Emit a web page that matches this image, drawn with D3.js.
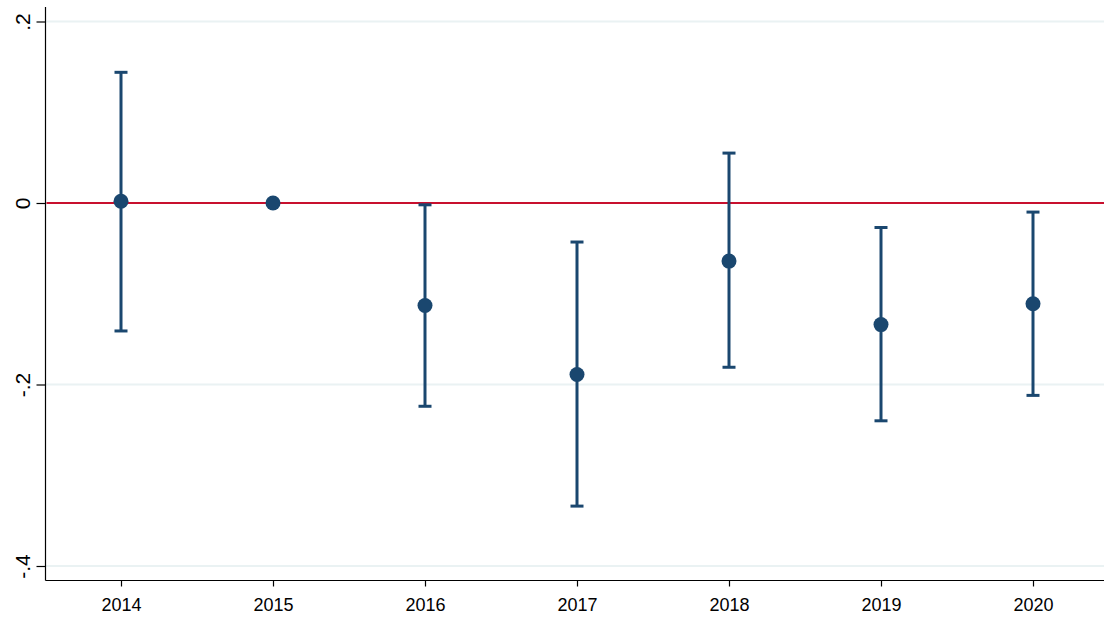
<!DOCTYPE html>
<html>
<head>
<meta charset="utf-8">
<script src="https://cdn.jsdelivr.net/npm/d3@7"></script>
<style>
  body { margin: 0; background: #fff; }
  svg { display: block; font-family: "Liberation Sans", Arial, sans-serif; }
</style>
</head>
<body>
<div id="chart"></div>
<script>
// coefficient estimates and 95% CIs by year (2015 = reference year)
const years = [2014, 2015, 2016, 2017, 2018, 2019, 2020];
const coef  = [0.002, 0, -0.113, -0.189, -0.064, -0.134, -0.111];
const ciLow = [-0.141, null, -0.224, -0.334, -0.181, -0.240, -0.212];
const ciHigh = [0.144, null, -0.002, -0.043, 0.055, -0.027, -0.010];
const yTicks = [-0.4, -0.2, 0, 0.2];
const yTickLabels = ["-.4", "-.2", "0", ".2"];

const width = 1104, height = 621;
const navy = "#1a476f";

const svg = d3.select("#chart").append("svg")
  .attr("width", width)
  .attr("height", height);

const x = d3.scaleLinear().domain([2014, 2020]).range([121, 1033]);
const y = d3.scaleLinear().domain([-0.4, 0.2]).range([566, 21.5]);

const axisX = 45.5, axisY = 580.5;

// grid lines
svg.append("g")
  .selectAll("line")
  .data(yTicks)
  .join("line")
  .attr("x1", axisX)
  .attr("x2", width)
  .attr("y1", d => y(d))
  .attr("y2", d => y(d))
  .attr("stroke", "#eaf2f3")
  .attr("stroke-width", 2);

// y axis
const gy = svg.append("g")
  .attr("transform", `translate(${axisX},0)`)
  .call(d3.axisLeft(y).tickValues(yTicks).tickSize(9).tickSizeOuter(0)
    .tickFormat((d, i) => yTickLabels[i]));
gy.select(".domain").remove();
gy.append("line")
  .attr("y1", 7).attr("y2", axisY)
  .attr("stroke", "#000").attr("stroke-width", 1.2);
gy.selectAll(".tick line").attr("stroke", "#000").attr("stroke-width", 1.2);
gy.selectAll(".tick text")
  .attr("font-size", 21)
  .attr("fill", "#000")
  .attr("text-anchor", "middle")
  .attr("x", 0)
  .attr("dy", 0)
  .attr("transform", "translate(-21,0) rotate(-90)")
  .attr("dominant-baseline", "middle");

// x axis
const gx = svg.append("g")
  .attr("transform", `translate(0,${axisY})`)
  .call(d3.axisBottom(x).tickValues(years).tickSize(6).tickSizeOuter(0)
    .tickFormat(d3.format("d")));
gx.select(".domain").remove();
gx.append("line")
  .attr("x1", axisX).attr("x2", width)
  .attr("stroke", "#000").attr("stroke-width", 1.2);
gx.selectAll(".tick line").attr("stroke", "#000").attr("stroke-width", 1.2);
gx.selectAll(".tick text")
  .attr("font-size", 18)
  .attr("fill", "#000")
  .attr("y", 18);

// zero reference line
svg.append("line")
  .attr("x1", axisX + 1)
  .attr("x2", width)
  .attr("y1", y(0))
  .attr("y2", y(0))
  .attr("stroke", "#c8102e")
  .attr("stroke-width", 2);

const rows = years.map((yr, i) => ({ yr, b: coef[i], lo: ciLow[i], hi: ciHigh[i] }));
const withCi = rows.filter(d => d.lo !== null);

// CI bars
const bars = svg.append("g").attr("stroke", navy).attr("stroke-width", 3);
bars.selectAll("line.ci")
  .data(withCi)
  .join("line")
  .attr("class", "ci")
  .attr("x1", d => x(d.yr)).attr("x2", d => x(d.yr))
  .attr("y1", d => y(d.lo)).attr("y2", d => y(d.hi));
bars.selectAll("line.capLo")
  .data(withCi)
  .join("line")
  .attr("class", "capLo")
  .attr("x1", d => x(d.yr) - 6.5).attr("x2", d => x(d.yr) + 6.5)
  .attr("y1", d => y(d.lo)).attr("y2", d => y(d.lo));
bars.selectAll("line.capHi")
  .data(withCi)
  .join("line")
  .attr("class", "capHi")
  .attr("x1", d => x(d.yr) - 6.5).attr("x2", d => x(d.yr) + 6.5)
  .attr("y1", d => y(d.hi)).attr("y2", d => y(d.hi));

// point estimates
svg.append("g")
  .selectAll("circle")
  .data(rows)
  .join("circle")
  .attr("cx", d => x(d.yr))
  .attr("cy", d => y(d.b))
  .attr("r", 7.5)
  .attr("fill", navy);
</script>
</body>
</html>
